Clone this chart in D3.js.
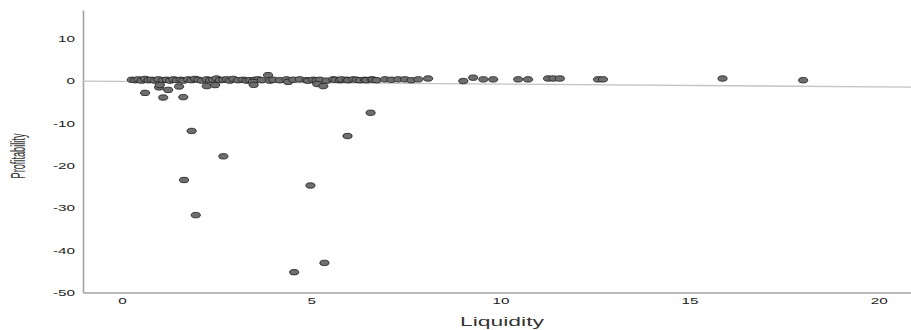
<!DOCTYPE html>
<html>
<head>
<meta charset="utf-8">
<script src="https://cdn.jsdelivr.net/npm/d3@7"></script>
<style>
  body { margin: 0; background: #fff; }
  .tick text { font-family: "Liberation Sans", Arial, sans-serif; font-size: 9px; fill: #222; }
</style>
</head>
<body>
<div id="scatterplot"></div>
<script>
// points close to zero
const liquidity = [
  0.26, 0.35, 0.43, 0.52, 0.61, 0.70, 0.78, 0.87, 0.96, 1.09,
  1.18, 1.27, 1.36, 1.45, 1.55, 1.62, 1.75, 1.84, 1.93, 2.02,
  2.11, 2.24, 2.33, 2.41, 2.50, 2.59, 2.68, 2.77, 2.85, 2.94,
  3.07, 3.20, 3.29, 3.38, 3.51, 3.60, 3.69, 3.86, 3.91, 4.00,
  4.17, 4.35, 4.39, 4.53, 4.70, 4.88, 4.92, 5.05, 5.14, 5.23,
  5.41, 5.58, 5.64, 5.76, 5.80, 5.94, 5.98, 6.11, 6.20, 6.29,
  6.42, 6.46, 6.60, 6.64, 6.73, 6.95, 7.12, 7.30, 7.48, 7.65,
  7.83, 8.09, 9.02, 9.28, 9.55, 9.81, 10.47, 10.73, 11.26, 11.40,
  11.57, 12.58, 12.71, 15.87, 18.00
];
const profitability = [
  0.3, 0.2, 0.4, 0.1, 0.5, 0.2, 0.3, 0.1, 0.4, 0.2,
  0.3, 0.1, 0.4, 0.2, 0.3, 0.1, 0.4, 0.2, 0.5, 0.3,
  0.1, 0.4, 0.2, 0.3, 0.6, 0.2, 0.3, 0.4, 0.1, 0.5,
  0.2, 0.3, 0.1, 0.2, 0.3, 0.4, 0.2, 1.4, 0.1, 0.3,
  0.2, 0.4, -0.2, 0.3, 0.4, 0.2, 0.1, 0.3, 0.2, 0.3,
  0.1, 0.4, 0.3, 0.2, 0.4, 0.3, 0.2, 0.4, 0.3, 0.2,
  0.3, 0.2, 0.4, 0.3, 0.2, 0.4, 0.3, 0.4, 0.4, 0.2,
  0.4, 0.6, 0.0, 0.8, 0.4, 0.4, 0.4, 0.4, 0.6, 0.6,
  0.6, 0.4, 0.4, 0.6, 0.2
];
// the losses
const liquidityLow = [
  0.61, 0.98, 1.00, 1.09, 1.22, 1.51, 1.62, 1.64, 1.84, 1.95, 2.24,
  2.46, 2.68, 3.46, 3.48, 4.55, 4.98, 5.16, 5.32, 5.35, 5.96, 6.57
];
const profitabilityLow = [
  -2.8, -1.5, -0.95, -3.9, -2.1, -1.3, -3.8, -23.4, -11.8, -31.7, -1.2,
  -0.95, -17.8, -0.2, -0.9, -45.2, -24.7, -0.7, -1.2, -43.0, -13.0, -7.5
];
const xTicks = [0, 5, 10, 15, 20];
const yTicks = [10, 0, -10, -20, -30, -40, -50];
// linear fit: intercept, slope
const fit = [-0.07, -0.065];

const svgWidth = 911;
const svgHeight = 330;

const svg = d3.select('#scatterplot').append('svg')
  .attr('width', svgWidth)
  .attr('height', svgHeight);

const xScale = d3.scaleLinear()
  .domain([-1.03, 20.85])
  .range([83, 911]);

const yScale = d3.scaleLinear()
  .domain([-50, 16.8])
  .range([292.5, 10]);

const xAxis = svg.append('g')
  .attr('transform', 'translate(0,292.5)')
  .call(d3.axisBottom(xScale).tickValues(xTicks).tickSize(0).tickSizeOuter(0).tickPadding(5));

// plain hyphen, not the unicode minus
const yAxis = svg.append('g')
  .attr('transform', 'translate(83,0)')
  .call(d3.axisLeft(yScale).tickValues(yTicks).tickSize(0).tickSizeOuter(0).tickFormat(d => String(d)));

[xAxis, yAxis].forEach(a => {
  a.select('.domain').attr('stroke', '#a3a3a3').attr('stroke-width', 1.6);
});
// the labels in the picture are stretched sideways
xAxis.selectAll('.tick text').attr('transform', 'scale(1.7,1)');
yAxis.selectAll('.tick text').attr('x', 0).attr('transform', 'translate(-8,0) scale(1.7,1)');

// fit line
svg.append('line')
  .attr('x1', xScale(-1.03))
  .attr('y1', yScale(fit[0] + fit[1] * -1.03))
  .attr('x2', xScale(20.85))
  .attr('y2', yScale(fit[0] + fit[1] * 20.85))
  .attr('stroke', '#c4c4c4')
  .attr('stroke-width', 1.3);

const data = liquidity.map((d, i) => [d, profitability[i]])
  .concat(liquidityLow.map((d, i) => [d, profitabilityLow[i]]));

svg.append('g').selectAll('ellipse')
  .data(data)
  .enter()
  .append('ellipse')
  .attr('cx', d => xScale(d[0]))
  .attr('cy', d => yScale(d[1]))
  .attr('rx', 4.6)
  .attr('ry', 2.7)
  .attr('fill', '#6e6e6e')
  .attr('stroke', '#262626')
  .attr('stroke-width', 0.9);

// axis titles
svg.append('text')
  .attr('x', 502)
  .attr('y', 326)
  .attr('text-anchor', 'middle')
  .attr('textLength', 84)
  .attr('lengthAdjust', 'spacingAndGlyphs')
  .style('font-family', '"Liberation Sans", Arial, sans-serif')
  .style('font-size', '12.5px')
  .style('fill', '#333')
  .text('Liquidity');

svg.append('text')
  .attr('transform', 'translate(25,156) rotate(-90)')
  .attr('text-anchor', 'middle')
  .attr('textLength', 45)
  .attr('lengthAdjust', 'spacingAndGlyphs')
  .style('font-family', '"Liberation Sans Narrow", "Liberation Sans", sans-serif')
  .style('font-size', '20px')
  .style('fill', '#333')
  .text('Profitability');
</script>
</body>
</html>
